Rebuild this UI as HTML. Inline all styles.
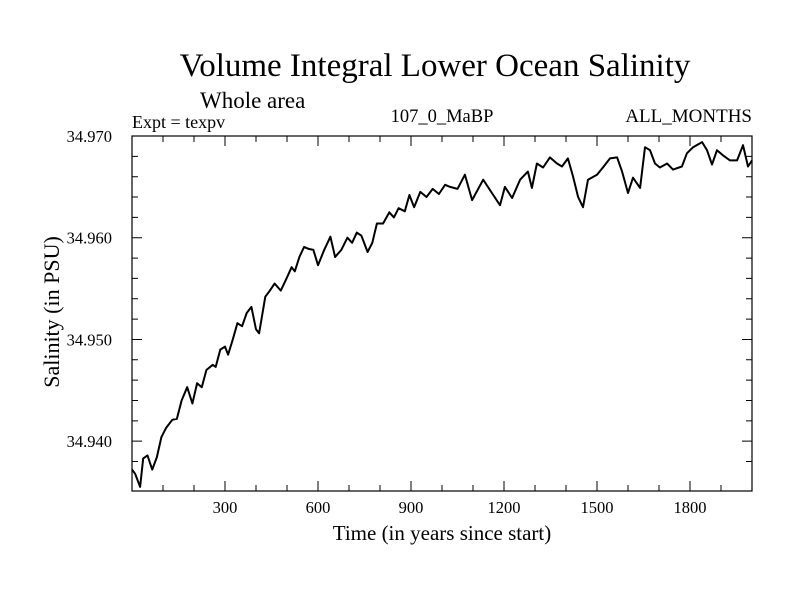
<!DOCTYPE html>
<html><head><meta charset="utf-8"><style>
html,body{margin:0;padding:0;background:#fff;}
svg text{font-family:"Liberation Serif",serif;fill:#000;}
</style></head><body>
<svg id="chart" width="800" height="600" viewBox="0 0 800 600" xmlns="http://www.w3.org/2000/svg">
<rect width="800" height="600" fill="#fff"/>
<text x="435" y="76" font-size="33" text-anchor="middle">Volume Integral Lower Ocean Salinity</text>
<text x="200" y="108" font-size="23">Whole area</text>
<text x="132" y="128" font-size="18">Expt = texpv</text>
<text x="442" y="122" font-size="18.5" text-anchor="middle">107_0_MaBP</text>
<text x="752" y="122" font-size="19" text-anchor="end">ALL_MONTHS</text>
<text x="442" y="540" font-size="21" text-anchor="middle">Time (in years since start)</text>
<text x="0" y="0" font-size="22" text-anchor="middle" transform="translate(59,312) rotate(-90)">Salinity (in PSU)</text>
<g id="axes"></g>
<g id="plot"></g>
</svg>
<script>
const years = [0,10,26,36,50,65,80,95,110,130,145,160,178,195,210,225,240,260,270,285,300,310,325,340,355,370,385,400,410,430,445,460,480,500,515,525,540,555,570,585,600,620,640,655,675,695,710,725,740,760,775,790,810,830,845,860,880,895,910,930,950,970,990,1010,1026,1050,1074,1097,1133,1161,1187,1203,1226,1252,1277,1290,1306,1326,1348,1371,1387,1406,1423,1439,1455,1471,1500,1519,1542,1565,1581,1600,1616,1639,1655,1671,1687,1703,1726,1745,1774,1790,1810,1839,1855,1871,1887,1906,1929,1952,1971,1987,2000];
const salinity = [34.9372,34.9368,34.9355,34.9383,34.9386,34.9372,34.9384,34.9404,34.9413,34.9421,34.9422,34.9440,34.9453,34.9437,34.9457,34.9453,34.9470,34.9475,34.9473,34.9490,34.9493,34.9485,34.9500,34.9516,34.9513,34.9526,34.9532,34.9510,34.9506,34.9542,34.9548,34.9555,34.9548,34.9561,34.9571,34.9567,34.9581,34.9591,34.9589,34.9588,34.9573,34.9588,34.9601,34.9581,34.9588,34.9600,34.9595,34.9605,34.9602,34.9586,34.9595,34.9614,34.9614,34.9625,34.9620,34.9629,34.9626,34.9642,34.9630,34.9645,34.9640,34.9648,34.9643,34.9652,34.9650,34.9648,34.9662,34.9637,34.9657,34.9644,34.9632,34.9650,34.9639,34.9657,34.9665,34.9649,34.9673,34.9669,34.9679,34.9673,34.9670,34.9678,34.9660,34.9640,34.9630,34.9657,34.9662,34.9669,34.9678,34.9679,34.9665,34.9644,34.9659,34.9649,34.9689,34.9686,34.9673,34.9669,34.9673,34.9667,34.9670,34.9683,34.9689,34.9694,34.9686,34.9672,34.9686,34.9681,34.9676,34.9676,34.9691,34.9670,34.9676];
const xTicks = [300,600,900,1200,1500,1800];
const yTicks = [34.940,34.950,34.960,34.970];
const yTickLabels = ["34.940","34.950","34.960","34.970"];

const L=132,R=752,T=136,B=491;
const X0=0,X1=2000,Y0=34.9351,Y1=34.970;
const sx=v=>L+(v-X0)/(X1-X0)*(R-L);
const sy=v=>B-(v-Y0)/(Y1-Y0)*(B-T);
const NS="http://www.w3.org/2000/svg";
const axes=document.getElementById('axes');
const plot=document.getElementById('plot');
function mk(tag,attrs,parent){const e=document.createElementNS(NS,tag);for(const k in attrs)e.setAttribute(k,attrs[k]);parent.appendChild(e);return e;}

const frame=mk('rect',{x:L,y:T,width:R-L,height:B-T,fill:'none',stroke:'#000','stroke-width':1.2},axes);



let d='';
for(let v=100;v<X1;v+=100){
  const x=sx(v), len=(v%300===0)?10:6;
  d+=`M${x},${B}V${B-len}M${x},${T}V${T+len}`;
}
for(let i=1;;i++){
  const v=34.936+i*0.002; if(v>Y1-0.0005)break;
  const y=sy(v), major=Math.abs(((v-34.94)/0.01)-Math.round((v-34.94)/0.01))<0.01, len=major?10:6;
  d+=`M${L},${y}H${L+len}M${R},${y}H${R-len}`;
}
const ticks=mk('path',{d:d,stroke:'#000','stroke-width':1,fill:'none'},axes);



xTicks.forEach(v=>{
  const t=mk('text',{x:sx(v),y:513,'font-size':16.5,'text-anchor':'middle'},axes);
  t.textContent=String(v);
  
  
});
yTicks.forEach((v,i)=>{
  const t=mk('text',{x:112,y:sy(v)+6,'font-size':16.5,'text-anchor':'end'},axes);
  t.textContent=yTickLabels[i];
  
  
});

const pts=years.map((v,i)=>sx(v).toFixed(1)+','+sy(salinity[i]).toFixed(1)).join(' ');
const line=mk('polyline',{points:pts,fill:'none',stroke:'#000','stroke-width':2,'stroke-linejoin':'round'},plot);


</script>
</body></html>
